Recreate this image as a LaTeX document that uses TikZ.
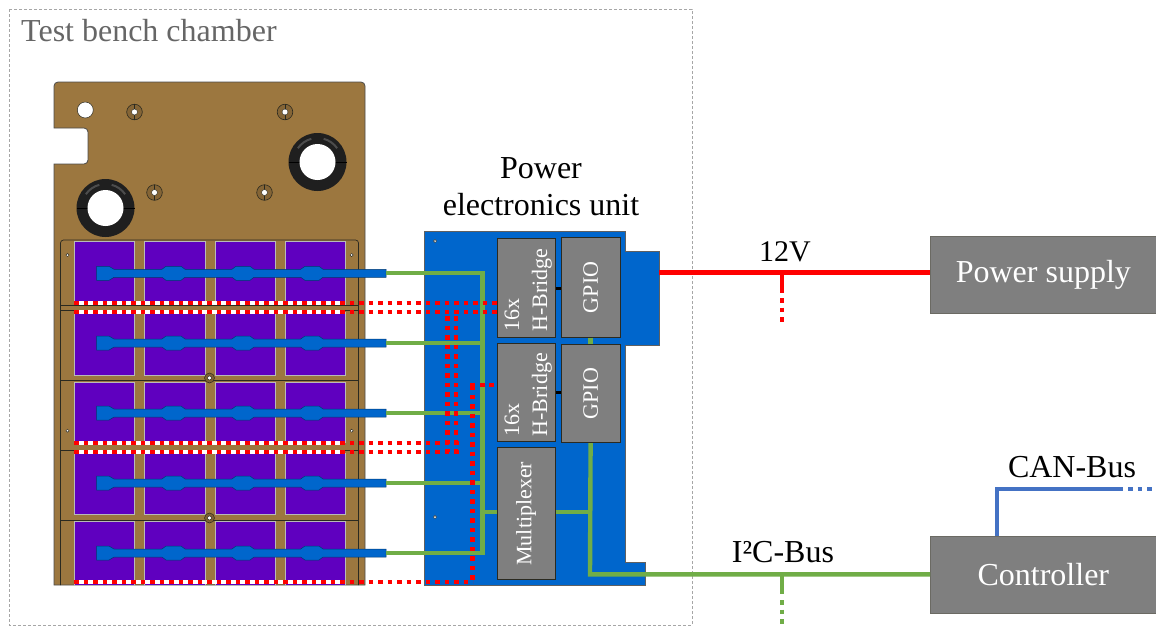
\documentclass[tikz,border=0pt]{standalone}
\usepackage{fontspec}
\setmainfont{Liberation Serif}
\definecolor{plate}{HTML}{9C773F}
\definecolor{cellc}{HTML}{5F00BF}
\definecolor{peu}{HTML}{0066CC}
\definecolor{greyb}{HTML}{7F7F7F}
\definecolor{greenl}{HTML}{70AD47}
\definecolor{bluel}{HTML}{4472C4}
\definecolor{darkl}{HTML}{2B2A20}
\tikzset{
  greybox/.style={draw=darkl,line width=0.8pt,fill=greyb,text=white,inner sep=0pt,anchor=north west,align=center,font=\fontsize{22}{28}\selectfont},
  sidebox/.style={draw=darkl!70,line width=0.7pt,fill=greyb,text=white,inner sep=0pt,anchor=north west,minimum width=226pt,minimum height=77pt,font=\fontsize{32}{36}\selectfont},
  lbl/.style={text=black,inner sep=0pt,align=center,font=\fontsize{32}{37}\selectfont},
  greenw/.style={draw=greenl,line width=4.4pt},
  redw/.style={draw=red,line width=4.6pt},
  reddots/.style={draw=red,line width=4.8pt,dash pattern=on 4.8pt off 4.7pt},
  greendots/.style={draw=greenl,line width=4.4pt,dash pattern=on 4.6pt off 4.9pt},
  bluedots/.style={draw=bluel,line width=4.4pt,dash pattern=on 4.6pt off 4.9pt},
  whitedots/.style={draw=white,line width=4.8pt},
  bluew/.style={draw=bluel,line width=4.4pt},
  rail/.style={draw=darkl,line width=0.7pt},
  cellbox/.style={fill=cellc,draw=gray!55,line width=0.9pt},
  screwo/.style={fill=plate!85!black,draw=darkl,line width=0.6pt},
}
\newcommand{\cellbar}[1]{%
  \filldraw[shift={(0,#1)},fill=peu,draw=peu!55!black,line width=0.5pt]
   (96.7,-7) -- (109,-7) -- (114,-4) -- (162,-4) -- (166,-7) -- (181,-7) -- (185,-4) -- (232,-4) -- (236,-7) -- (250,-7) -- (254,-4) -- (300.7,-4) -- (305,-7) -- (319,-7) -- (323,-4) -- (386,-4)
   -- (386,4) -- (323,4) -- (319,7) -- (305,7) -- (300.7,4) -- (254,4) -- (250,7) -- (236,7) -- (232,4) -- (185,4) -- (181,7) -- (166,7) -- (162,4) -- (114,4) -- (109,7) -- (96.7,7) -- cycle;}
\newcommand{\screwhole}[2]{%
  \filldraw[screwo] (#1,#2) circle[radius=7.8];
  \draw[darkl,line width=0.4pt] (#1,#2-7.8) -- (#1,#2+7.8);
  \filldraw[fill=white,draw=darkl,line width=0.4pt] (#1,#2) circle[radius=3];}
\newcommand{\grommet}[2]{%
  \fill[black!88] (#1,#2) circle[radius=29];
  \draw[gray!60!black,line width=2pt] (#1,#2) ++(-35:24) arc[start angle=-35,end angle=-75,radius=24];
  \draw[gray!60!black,line width=2pt] (#1,#2) ++(215:24) arc[start angle=215,end angle=255,radius=24];
  \draw[black,line width=0.5pt] (#1-29,#2) -- (#1+29,#2);
  \fill[white] (#1,#2) circle[radius=18];}
\newcommand{\tinyhole}[2]{\filldraw[fill=white,draw=darkl,line width=0.5pt] (#1,#2) circle[radius=1.6];}
\newcommand{\hbridge}{\makebox[0pt]{\hspace*{3pt}\rotatebox{90}{\begin{tabular}{@{}l@{}}16x\\H-Bridge\end{tabular}\hspace*{4pt}}}}
\begin{document}
\begin{tikzpicture}[x=1pt,y=-1pt]
\useasboundingbox (0,0) rectangle (1156,625);
% chamber
\draw[gray!70,line width=0.8pt,dash pattern=on 3pt off 2pt] (9,9) rectangle (692,625);
\node[anchor=west,inner sep=0pt,text=black!60,font=\fontsize{32}{36}\selectfont] (chamber) at (21,31) {Test bench chamber};
% plate
\filldraw[fill=plate,draw=gray!60!black,line width=0.8pt]
  (58,82) -- (361,82) arc[start angle=270,end angle=360,radius=4] -- (365,585) -- (54,585) -- (54,164) -- (84,164)
  arc[start angle=90,end angle=0,radius=4] -- (88,132) arc[start angle=0,end angle=-90,radius=4] -- (54,128) -- (54,86) arc[start angle=180,end angle=270,radius=4] -- cycle;
\filldraw[fill=white,draw=darkl,line width=0.5pt] (85.3,110) circle[radius=8];
\screwhole{134.5}{112}\screwhole{285}{112}\screwhole{154.5}{192.5}\screwhole{264.5}{192.5}
\grommet{317.5}{162}\grommet{105.5}{208}
% frame
\draw[rail] (60.5,585) -- (60.5,243) arc[start angle=180,end angle=270,radius=3] -- (355.5,240) arc[start angle=270,end angle=360,radius=3] -- (358.5,585);
\foreach \ya/\yb in {241/305,312/375,382/442,453/514,521/585}{
  \foreach \xa/\xb in {74.3/134.7,144.3/205,215/275,285/345.3}{
    \filldraw[cellbox] (\xa,\ya) rectangle (\xb,\yb);
  }
}
\foreach \yy in {305.7,310.3,376,380.7,446,450.5,516,520.7}{\draw[rail] (60.5,\yy) -- (358.5,\yy);}
\fill[plate] (60.8,306) rectangle (358,310);
\fill[plate] (60.8,376.4) rectangle (358,380.3);
\fill[plate] (60.8,446.4) rectangle (358,450.1);
\fill[plate] (60.8,516.4) rectangle (358,520.3);
\foreach \xx/\yy in {209.5/378,209.5/518}{\filldraw[fill=plate!80!black,draw=darkl,line width=0.5pt] (\xx,\yy) circle[radius=5];\filldraw[fill=white,draw=darkl,line width=0.5pt] (\xx,\yy) circle[radius=2];}
\tinyhole{67.5}{255}\tinyhole{351.7}{255}\tinyhole{67.5}{430.7}\tinyhole{351.7}{430.7}
% power electronics unit
\filldraw[fill=peu,draw=gray!75!black,line width=0.7pt] (424.7,231.3) -- (625,231.3) -- (625,251) -- (659,251) -- (659,345.7) -- (625,345.7) -- (625,562) -- (645,562) -- (645,585) -- (424.7,585) -- cycle;
\tinyhole{435}{241}\tinyhole{435}{517}
% bars
\cellbar{273.3}\cellbar{343}\cellbar{413}\cellbar{483}\cellbar{553}
\coordinate (b1) at (386,273);\coordinate (b2) at (386,343);\coordinate (b3) at (386,413);\coordinate (b4) at (386,483);\coordinate (b5) at (386,553);
% grey boxes
\node[greybox,minimum width=58pt,minimum height=99pt] (hb1) at (496.7,238.3) {\hbridge};
\node[greybox,minimum width=59pt,minimum height=99.4pt] (gp1) at (560.7,237.3) {\rotatebox{90}{GPIO}};
\node[greybox,minimum width=58pt,minimum height=98pt] (hb2) at (496.7,343.3) {\hbridge};
\node[greybox,minimum width=59pt,minimum height=98.3pt] (gp2) at (560.7,344) {\rotatebox{90}{GPIO}};
\node[greybox,minimum width=58pt,minimum height=132pt] (mux) at (496.7,447.3) {\rotatebox{90}{Multiplexer}};
\draw[black,line width=3pt] (hb1.east |- 0,288.7) -- (gp1.west |- 0,288.7);
\draw[black,line width=3pt] (hb2.east |- 0,392.7) -- (gp2.west |- 0,392.7);
% side boxes
\node[sidebox] (psu) at (930,236) {Power supply};
\node[sidebox] (ctl) at (930,536) {Controller};
% green bus
\coordinate (gtop) at (482.3,273);\coordinate (gbot) at (482.3,553);
\coordinate (g2) at (482.3,343);\coordinate (g3) at (482.3,413);\coordinate (g4) at (482.3,483);
\coordinate (mx) at (482.3,512);\coordinate (my) at (590,512);
\coordinate (gc) at (590,574.3);
\draw[greenw] (b1) -- (gtop) -- (gbot) -- (b5);
\draw[greenw] (b2) -- (g2);\draw[greenw] (b3) -- (g3);\draw[greenw] (b4) -- (g4);
\draw[greenw] (mx) -- (mux.west |- mx);
\draw[greenw] (mux.east |- my) -- (my);
\draw[greenw] (gp1.south) -- (gp2.north);
\draw[greenw] (gp2.south) -- (gc) -- (ctl.west |- gc);
\coordinate (gs) at (782,574.3);\coordinate (gm) at (782,594);\coordinate (gd) at (782,600);\coordinate (ge) at (782,625);
\draw[greenw] (gs) -- (gm);
\draw[greendots] (gd) -- (ge);
% red bus
\coordinate (rs) at (659,272.5);\coordinate (rj) at (782,272.5);\coordinate (rm) at (782,293);\coordinate (rd) at (782,298);\coordinate (re) at (782,322);
\draw[redw] (rs) -- (psu.west |- rs);
\draw[redw] (rj) -- (rm);
\draw[reddots] (rd) -- (re);
\foreach \yy in {303,312,443,452,582}{\draw[whitedots] (74,\yy) -- (345,\yy);}
\draw[reddots] (74,303) -- (496.7,303);
\draw[reddots] (74,312) -- (496.7,312);
\draw[reddots] (74,443) -- (459,443);
\draw[reddots] (74,452) -- (459,452);
\draw[reddots] (74,582) -- (473,582);
\draw[reddots] (447.3,316) -- (447.3,452);
\draw[reddots] (456,316) -- (456,452);
\draw[reddots] (472.7,385) -- (472.7,582);
\draw[reddots] (470.4,385) -- (495,385);
% blue can
\coordinate (cb) at (997,489);\coordinate (cr) at (1123,489);\coordinate (cd) at (1128,489);\coordinate (ce) at (1153,489);
\draw[bluew] (ctl.north west) ++(67,0) -- (cb) -- (cr);
\draw[bluedots] (cd) -- (ce);
% labels
\node[lbl] (peul) at (541,187) {Power\\electronics unit};
\node[lbl,font=\fontsize{30}{37}\selectfont] (v12) at (785,252) {12V};
\node[lbl] (i2c) at (783,552) {I²C-Bus};
\node[lbl] (can) at (1072,467) {CAN-Bus};
\end{tikzpicture}
\end{document}
